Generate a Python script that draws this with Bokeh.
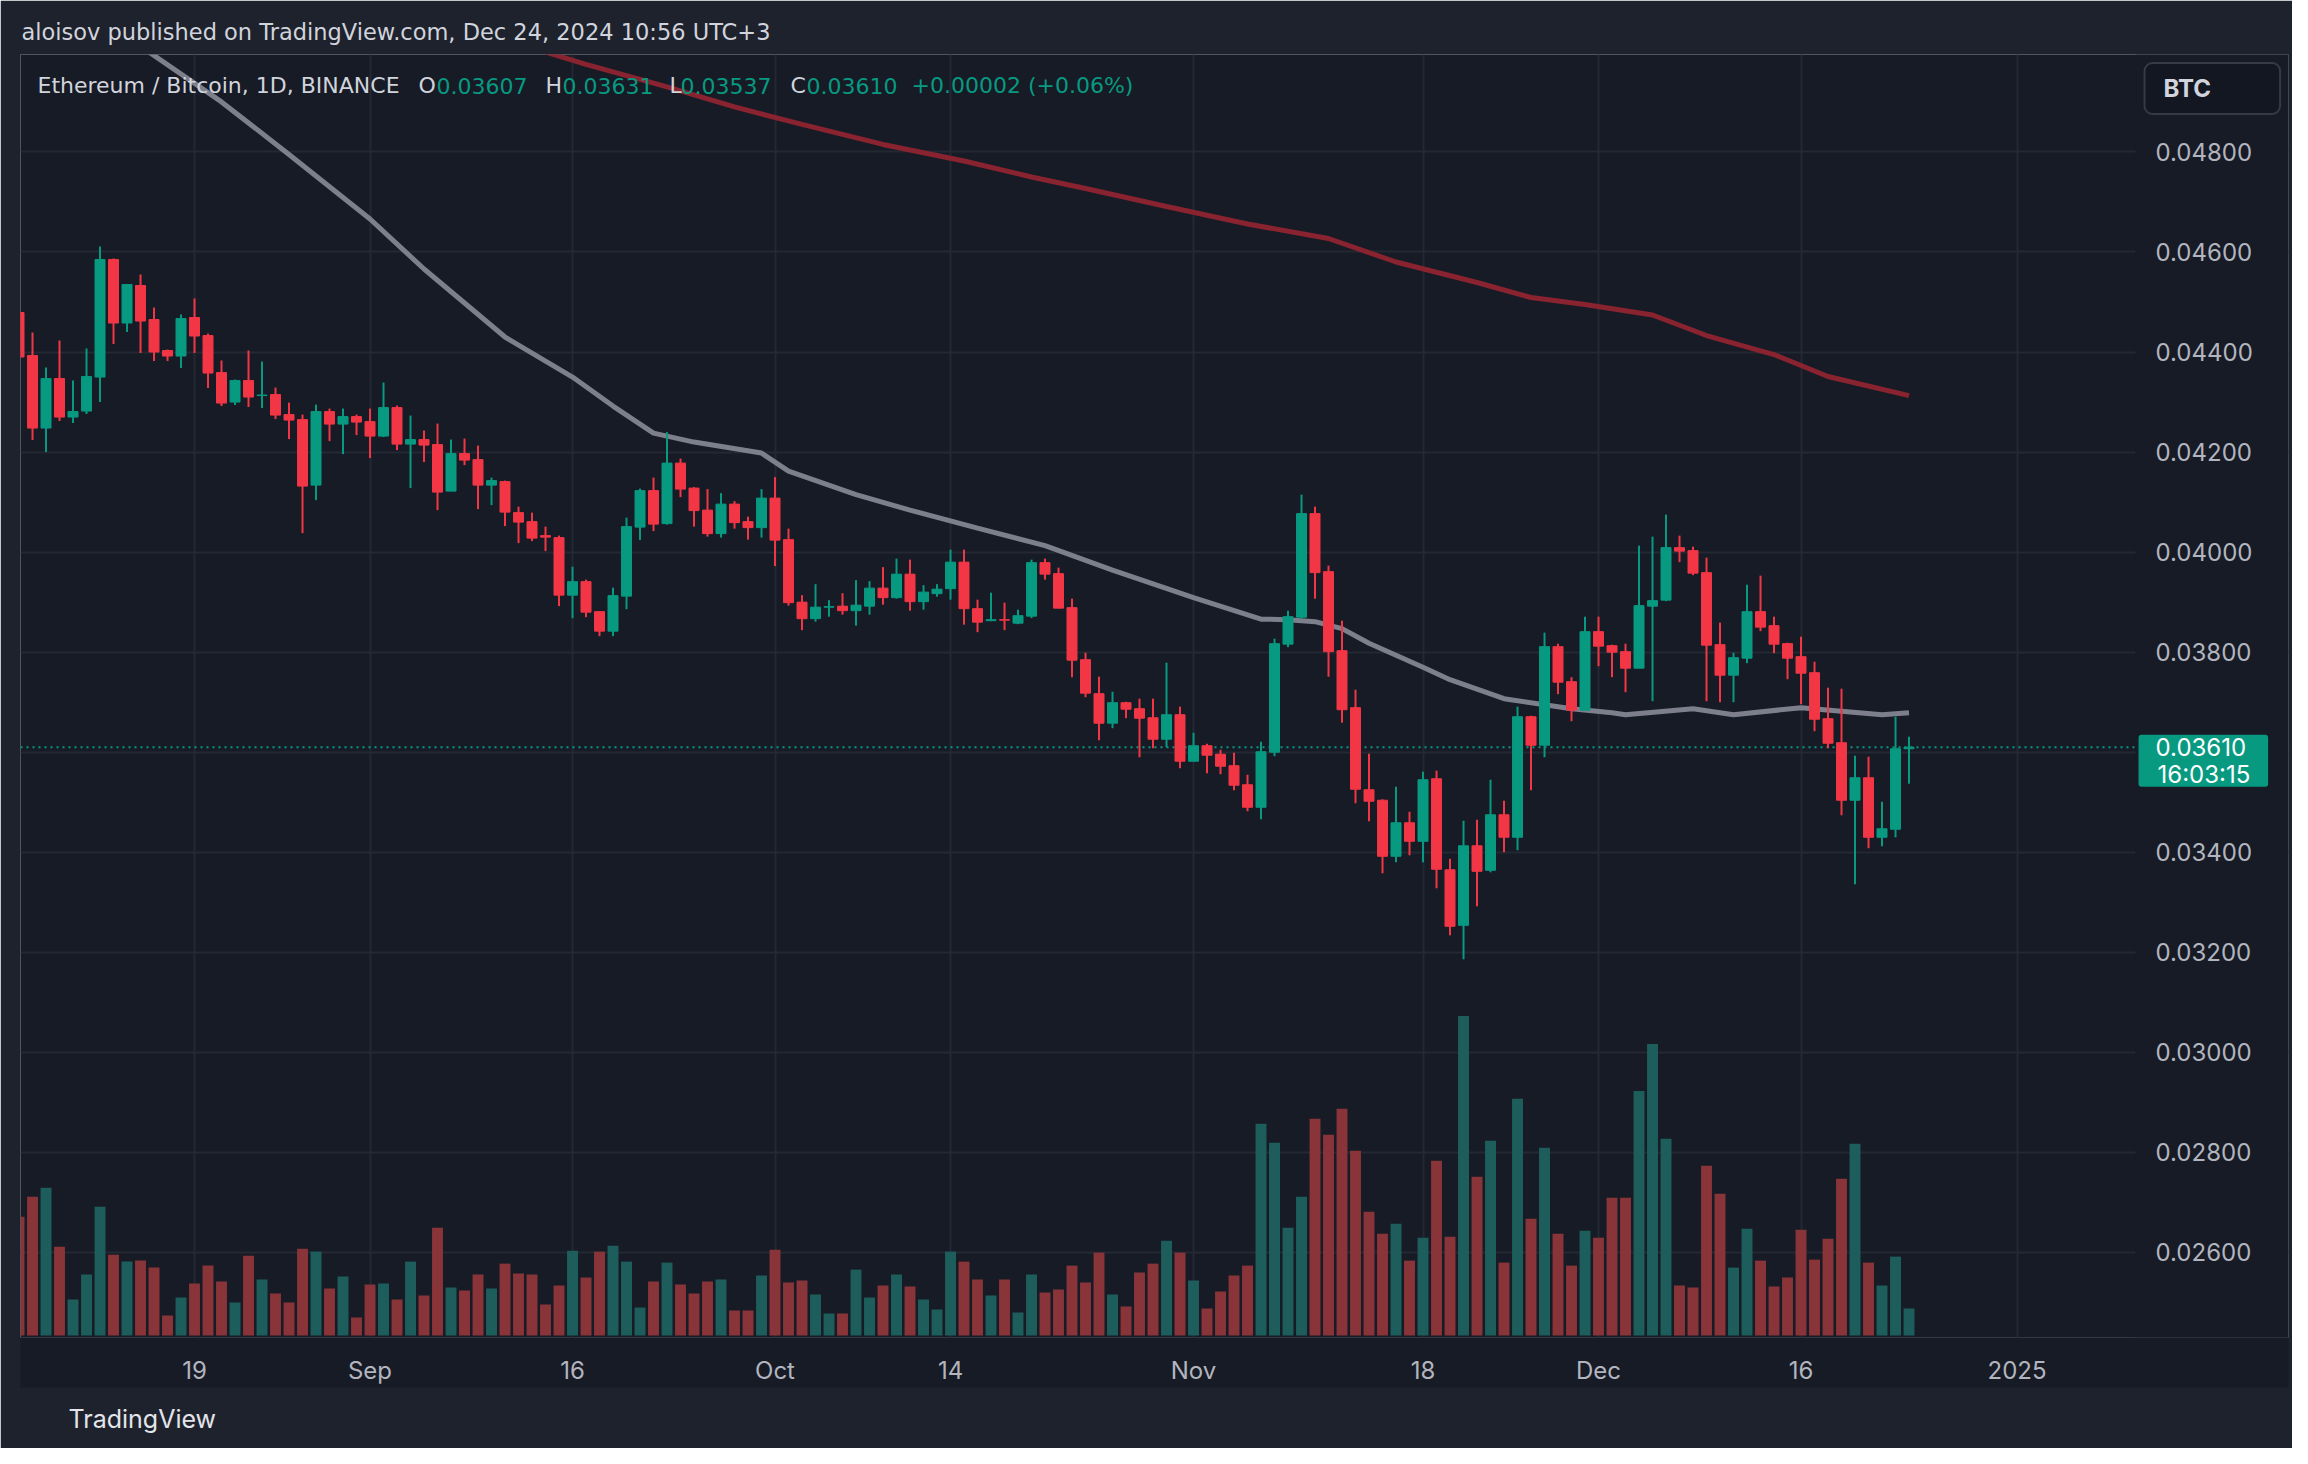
import pandas as pd
from bokeh.plotting import figure
from bokeh.models import (ColumnDataSource, Range1d, FixedTicker, PrintfTickFormatter,
                          CustomJSTickFormatter, Span, Label, Title, BoxAnnotation)
from bokeh.embed import file_html
from bokeh.resources import INLINE

# ---------------- data (ETH/BTC daily, Binance) ----------------
first_day = "2024-08-06"

opens = [0.04479, 0.04393, 0.04248, 0.04347, 0.04270, 0.04282, 0.04350, 0.04585, 0.04458, 0.04533,
         0.04465, 0.04403, 0.04392, 0.04469, 0.04433, 0.04359, 0.04300, 0.04343, 0.04313, 0.04315,
         0.04275, 0.04265, 0.04134, 0.04281, 0.04256, 0.04271, 0.04261, 0.04232, 0.04289, 0.04216,
         0.04225, 0.04215, 0.04122, 0.04197, 0.04185, 0.04134, 0.04141, 0.04079, 0.04061, 0.04033,
         0.04029, 0.03914, 0.03941, 0.03881, 0.03842, 0.03912, 0.04050, 0.04123, 0.04057, 0.04178,
         0.04128, 0.04084, 0.04037, 0.04096, 0.04061, 0.04049, 0.04108, 0.04025, 0.03900, 0.03867,
         0.03890, 0.03892, 0.03883, 0.03892, 0.03928, 0.03909, 0.03956, 0.03901, 0.03917, 0.03927,
         0.03980, 0.03887, 0.03863, 0.03865, 0.03858, 0.03872, 0.03979, 0.03957, 0.03889, 0.03785,
         0.03717, 0.03658, 0.03699, 0.03687, 0.03669, 0.03626, 0.03675, 0.03582, 0.03613, 0.03596,
         0.03573, 0.03535, 0.03490, 0.03600, 0.03816, 0.03870, 0.04077, 0.03961, 0.03803, 0.03689,
         0.03525, 0.03504, 0.03392, 0.03459, 0.03422, 0.03547, 0.03365, 0.03254, 0.03413, 0.03364,
         0.03475, 0.03430, 0.03671, 0.03614, 0.03811, 0.03741, 0.03684, 0.03841, 0.03813, 0.03801,
         0.03768, 0.03892, 0.03904, 0.04009, 0.04003, 0.03959, 0.03815, 0.03754, 0.03788, 0.03881,
         0.03853, 0.03817, 0.03791, 0.03759, 0.03667, 0.03619, 0.03504, 0.03549, 0.03430, 0.03446,
         0.03607]
highs = [0.04490, 0.04439, 0.04369, 0.04423, 0.04343, 0.04407, 0.04611, 0.04587, 0.04535, 0.04555,
         0.04489, 0.04405, 0.04475, 0.04507, 0.04437, 0.04383, 0.04345, 0.04403, 0.04381, 0.04329,
         0.04299, 0.04275, 0.04295, 0.04287, 0.04287, 0.04275, 0.04287, 0.04339, 0.04293, 0.04273,
         0.04243, 0.04257, 0.04225, 0.04227, 0.04213, 0.04149, 0.04143, 0.04091, 0.04079, 0.04051,
         0.04033, 0.03971, 0.03945, 0.03881, 0.03929, 0.04069, 0.04127, 0.04149, 0.04240, 0.04187,
         0.04130, 0.04126, 0.04118, 0.04102, 0.04071, 0.04126, 0.04150, 0.04047, 0.03914, 0.03936,
         0.03904, 0.03918, 0.03944, 0.03942, 0.03970, 0.03987, 0.03985, 0.03934, 0.03936, 0.04005,
         0.04005, 0.03905, 0.03919, 0.03899, 0.03885, 0.03985, 0.03987, 0.03969, 0.03907, 0.03799,
         0.03751, 0.03721, 0.03701, 0.03707, 0.03707, 0.03779, 0.03691, 0.03639, 0.03617, 0.03605,
         0.03599, 0.03555, 0.03621, 0.03827, 0.03883, 0.04115, 0.04091, 0.03973, 0.03863, 0.03725,
         0.03597, 0.03506, 0.03531, 0.03481, 0.03561, 0.03563, 0.03387, 0.03463, 0.03465, 0.03545,
         0.03503, 0.03691, 0.03673, 0.03839, 0.03817, 0.03750, 0.03871, 0.03871, 0.03815, 0.03817,
         0.04013, 0.04031, 0.04075, 0.04033, 0.04011, 0.03989, 0.03859, 0.03799, 0.03935, 0.03953,
         0.03871, 0.03819, 0.03831, 0.03781, 0.03729, 0.03727, 0.03593, 0.03591, 0.03501, 0.03671,
         0.03631]
lows = [0.04375, 0.04224, 0.04200, 0.04262, 0.04258, 0.04276, 0.04300, 0.04416, 0.04440, 0.04398,
        0.04382, 0.04382, 0.04368, 0.04398, 0.04328, 0.04292, 0.04294, 0.04290, 0.04288, 0.04266,
        0.04226, 0.04038, 0.04104, 0.04222, 0.04196, 0.04234, 0.04188, 0.04230, 0.04204, 0.04128,
        0.04180, 0.04084, 0.04122, 0.04174, 0.04086, 0.04094, 0.04052, 0.04018, 0.04022, 0.04002,
        0.03892, 0.03868, 0.03870, 0.03832, 0.03832, 0.03886, 0.04024, 0.04042, 0.04055, 0.04110,
        0.04051, 0.04031, 0.04029, 0.04047, 0.04025, 0.04029, 0.03972, 0.03893, 0.03844, 0.03861,
        0.03871, 0.03875, 0.03853, 0.03875, 0.03895, 0.03907, 0.03883, 0.03885, 0.03911, 0.03905,
        0.03855, 0.03840, 0.03862, 0.03844, 0.03856, 0.03868, 0.03945, 0.03888, 0.03750, 0.03710,
        0.03624, 0.03648, 0.03668, 0.03590, 0.03608, 0.03610, 0.03568, 0.03582, 0.03558, 0.03556,
        0.03524, 0.03482, 0.03466, 0.03592, 0.03810, 0.03866, 0.03907, 0.03751, 0.03659, 0.03498,
        0.03462, 0.03358, 0.03380, 0.03394, 0.03380, 0.03328, 0.03234, 0.03186, 0.03292, 0.03360,
        0.03400, 0.03404, 0.03524, 0.03590, 0.03716, 0.03662, 0.03684, 0.03772, 0.03750, 0.03720,
        0.03768, 0.03702, 0.03902, 0.03980, 0.03954, 0.03702, 0.03700, 0.03700, 0.03778, 0.03842,
        0.03798, 0.03746, 0.03696, 0.03642, 0.03608, 0.03474, 0.03336, 0.03408, 0.03412, 0.03430,
        0.03537]
closes = [0.04390, 0.04248, 0.04347, 0.04270, 0.04281, 0.04351, 0.04585, 0.04458, 0.04535, 0.04462,
          0.04400, 0.04392, 0.04467, 0.04432, 0.04358, 0.04298, 0.04343, 0.04310, 0.04314, 0.04274,
          0.04264, 0.04132, 0.04281, 0.04256, 0.04271, 0.04260, 0.04232, 0.04289, 0.04216, 0.04225,
          0.04214, 0.04120, 0.04197, 0.04184, 0.04134, 0.04143, 0.04080, 0.04060, 0.04028, 0.04030,
          0.03914, 0.03941, 0.03880, 0.03842, 0.03913, 0.04051, 0.04123, 0.04056, 0.04178, 0.04126,
          0.04083, 0.04037, 0.04096, 0.04059, 0.04049, 0.04108, 0.04024, 0.03899, 0.03867, 0.03890,
          0.03891, 0.03883, 0.03894, 0.03928, 0.03909, 0.03956, 0.03901, 0.03920, 0.03926, 0.03980,
          0.03887, 0.03860, 0.03865, 0.03864, 0.03873, 0.03979, 0.03956, 0.03888, 0.03784, 0.03718,
          0.03658, 0.03699, 0.03686, 0.03668, 0.03626, 0.03675, 0.03582, 0.03613, 0.03594, 0.03572,
          0.03534, 0.03490, 0.03601, 0.03817, 0.03871, 0.04077, 0.03959, 0.03801, 0.03685, 0.03526,
          0.03502, 0.03392, 0.03459, 0.03422, 0.03545, 0.03366, 0.03252, 0.03413, 0.03362, 0.03475,
          0.03430, 0.03671, 0.03614, 0.03811, 0.03740, 0.03684, 0.03841, 0.03812, 0.03800, 0.03768,
          0.03893, 0.03903, 0.04009, 0.04002, 0.03958, 0.03814, 0.03754, 0.03789, 0.03881, 0.03850,
          0.03816, 0.03788, 0.03758, 0.03666, 0.03618, 0.03504, 0.03549, 0.03430, 0.03447, 0.03607,
          0.03610]
volumes = [119, 139, 148, 89, 36, 61, 129, 81, 74, 75,
           68, 20, 38, 52, 70, 54, 33, 80, 56, 42,
           33, 87, 84, 47, 59, 18, 51, 52, 36, 74,
           40, 108, 48, 45, 61, 47, 72, 62, 61, 31,
           50, 85, 58, 84, 90, 74, 28, 54, 73, 51,
           42, 54, 56, 25, 25, 60, 86, 53, 55, 41,
           22, 22, 66, 38, 50, 61, 49, 36, 26, 84,
           74, 56, 40, 56, 23, 61, 43, 46, 70, 53,
           83, 41, 29, 63, 72, 95, 83, 55, 27, 44,
           60, 70, 212, 193, 108, 139, 217, 201, 227, 185,
           124, 102, 112, 75, 98, 175, 99, 320, 159, 195,
           73, 237, 117, 188, 102, 70, 105, 98, 138, 138,
           245, 292, 197, 50, 48, 170, 142, 68, 107, 75,
           49, 58, 106, 76, 97, 157, 192, 73, 50, 79,
           27]

# moving averages
ma_gray_dates = ["2024-08-14", "2024-08-21", "2024-08-26", "2024-09-01", "2024-09-05", "2024-09-11",
                 "2024-09-16", "2024-09-19", "2024-09-22", "2024-09-25", "2024-09-30", "2024-10-02",
                 "2024-10-07", "2024-10-11", "2024-10-16", "2024-10-21", "2024-10-26", "2024-11-01",
                 "2024-11-06", "2024-11-08", "2024-11-10", "2024-11-12", "2024-11-14", "2024-11-18",
                 "2024-11-20", "2024-11-24", "2024-11-27", "2024-11-29", "2024-12-02", "2024-12-03",
                 "2024-12-08", "2024-12-11", "2024-12-16", "2024-12-22", "2024-12-24"]
ma_gray_values = [0.05030, 0.04900, 0.04795, 0.04666, 0.04566, 0.04430,
                  0.04350, 0.04292, 0.04238, 0.04220, 0.04198, 0.04162,
                  0.04115, 0.04084, 0.04048, 0.04013, 0.03964, 0.03909,
                  0.03866, 0.03865, 0.03861, 0.03847, 0.03818, 0.03770,
                  0.03745, 0.03707, 0.03695, 0.03687, 0.03679, 0.03675,
                  0.03687, 0.03675, 0.03689, 0.03675, 0.03679]
ma_red_dates = ["2024-09-13", "2024-09-17", "2024-09-23", "2024-09-28", "2024-10-03", "2024-10-09",
                "2024-10-15", "2024-10-20", "2024-10-24", "2024-10-30", "2024-11-05", "2024-11-11",
                "2024-11-16", "2024-11-22", "2024-11-26", "2024-11-30", "2024-12-05", "2024-12-09",
                "2024-12-14", "2024-12-18", "2024-12-24"]
ma_red_values = [0.05008, 0.04975, 0.04930, 0.04890, 0.04855, 0.04815,
                 0.04782, 0.04750, 0.04727, 0.04691, 0.04656, 0.04627,
                 0.04580, 0.04539, 0.04509, 0.04495, 0.04474, 0.04433,
                 0.04395, 0.04351, 0.04313]

price_ticks = [0.026, 0.028, 0.030, 0.032, 0.034, 0.036, 0.038, 0.040, 0.042, 0.044, 0.046, 0.048]
date_tick_days = ["2024-08-19", "2024-09-01", "2024-09-16", "2024-10-01", "2024-10-14",
                  "2024-11-01", "2024-11-18", "2024-12-01", "2024-12-16", "2025-01-01"]
date_tick_labels = ["19", "Sep", "16", "Oct", "14", "Nov", "18", "Dec", "16", "2025"]

# ---------------- styling ----------------
UP, DOWN = "#089981", "#f23645"
VOL_UP, VOL_DOWN = "#1d5e5c", "#883439"
BG_FRAME, BG_OUTER = "#171b26", "#1e222d"
GRID = "#242833"
TXT, AXT = "#d1d4dc", "#b2b5be"
FONT = "Inter"
LFONT = "DejaVu Sans"
DAY = 86400000

dates = pd.date_range(first_day, periods=len(closes), freq="D")
up = [c >= o for o, c in zip(opens, closes)]
src = ColumnDataSource(dict(
    date=dates, open=opens, high=highs, low=lows, close=closes, volume=volumes,
    top=[max(o, c) for o, c in zip(opens, closes)],
    bottom=[min(o, c) for o, c in zip(opens, closes)],
    color=[UP if u else DOWN for u in up],
    vcolor=[VOL_UP if u else VOL_DOWN for u in up],
))

def ms(d):
    return pd.Timestamp(d).value / 1e6

x0 = ms(dates[0])
x_start, x_end = x0 + 0.11 * DAY, x0 + 168.11 * DAY     # frame incl. price-scale column
x_scale = x0 + 156.78 * DAY                              # where the price scale column begins
y_start, y_end = 0.02430, 0.049948

p = figure(width=2292, height=1448, output_backend="svg", toolbar_location=None,
           x_axis_type="datetime", y_axis_location="right",
           x_range=Range1d(x_start, x_end), y_range=Range1d(y_start, y_end),
           min_border_left=20, min_border_right=4, min_border_top=54, min_border_bottom=109)
p.extra_y_ranges = {"vol": Range1d(-2, 1283)}
p.background_fill_color = BG_FRAME
p.border_fill_color = BG_OUTER
p.outline_line_color = None

# title
p.title.text = "aloisov published on TradingView.com, Dec 24, 2024 10:56 UTC+3"
p.title.align = "left"
p.title.offset = 1
p.title.standoff = 19
p.title.text_font = LFONT
p.title.text_font_size = "22.5px"
p.title.text_font_style = "normal"
p.title.text_color = TXT

# axes
p.xaxis.ticker = FixedTicker(ticks=[ms(d) for d in date_tick_days])
p.xaxis.formatter = CustomJSTickFormatter(
    args=dict(vals=[ms(d) for d in date_tick_days], labs=date_tick_labels),
    code="const i = vals.indexOf(tick); return i >= 0 ? labs[i] : '';")
p.yaxis.ticker = FixedTicker(ticks=price_ticks)
p.yaxis.formatter = PrintfTickFormatter(format="%.5f")
p.yaxis[0].fixed_location = x_scale
for ax in (p.xaxis[0], p.yaxis[0]):
    ax.axis_line_color = None
    ax.major_tick_line_color = None
    ax.minor_tick_line_color = None
    ax.major_label_text_font = FONT
    ax.major_label_text_font_size = "24px"
    ax.major_label_text_color = AXT
try:
    p.xaxis[0].background_fill_color = BG_FRAME
except Exception:
    pass
p.xaxis.major_label_standoff = 12
p.yaxis.major_label_standoff = 14
p.xgrid.ticker = p.xaxis[0].ticker
p.ygrid.ticker = p.yaxis[0].ticker
p.grid.grid_line_color = GRID
p.grid.grid_line_width = 2

# last price line, then the price-scale column hides grid + line
last = closes[-1]
p.add_layout(Span(location=last, dimension="width", line_color=UP, line_width=2,
                  line_dash="2 4", level="underlay"))
p.add_layout(BoxAnnotation(left=x_scale, fill_color=BG_FRAME, fill_alpha=1.0,
                           line_color=None, level="underlay"))

# volume
p.vbar(x="date", width=0.81 * DAY, top="volume", bottom=0, y_range_name="vol",
       fill_color="vcolor", line_color=None, source=src)

# moving averages
p.line(pd.to_datetime(ma_gray_dates), ma_gray_values, line_color="#7d808c", line_width=5)
p.line(pd.to_datetime(ma_red_dates), ma_red_values, line_color="#8a2330", line_width=5)

# candles
p.segment(x0="date", y0="low", x1="date", y1="high", line_color="color", line_width=2, source=src)
p.vbar(x="date", width=0.74 * DAY, top="top", bottom="bottom", fill_color="color",
       line_color="color", line_width=1, source=src)

# legend line
legend_parts = [
    ("Ethereum / Bitcoin, 1D, BINANCE", 17, TXT),
    ("O", 398, TXT), ("%.5f" % opens[-1], 416, UP),
    ("H", 525, TXT), ("%.5f" % highs[-1], 542, UP),
    ("L", 649, TXT), ("%.5f" % lows[-1], 660, UP),
    ("C", 770, TXT), ("%.5f" % closes[-1], 786, UP),
    ("+0.00002 (+0.06%)", 891, UP),
]
for txt, off, col in legend_parts:
    p.add_layout(Label(x=x_start, y=y_end, x_offset=off, y_offset=-31, text=txt,
                       text_baseline="alphabetic", text_font=LFONT, text_font_size="22px",
                       text_color=col))

def boxed_label(**kw):
    extra = dict(padding=kw.pop("padding", None), border_radius=kw.pop("border_radius", None))
    lab = Label(**kw)
    for k, v in extra.items():
        if v is not None:
            try:
                setattr(lab, k, v)
            except Exception:
                pass
    return lab

# currency box
p.add_layout(boxed_label(x=x_scale, y=y_end, x_offset=9, y_offset=-34, text="BTC",
                         text_baseline="middle", text_font=FONT, text_font_size="24px",
                         text_font_style="bold", text_color=TXT,
                         background_fill_color="#131722", border_line_color="#363a45",
                         border_line_width=2,
                         padding=dict(left=19, right=69, top=11, bottom=11), border_radius=8))

# last price box
p.add_layout(boxed_label(x=x_scale, y=last, x_offset=3, y_offset=-13.5, text="%.5f" % last,
                         text_baseline="middle", text_font=FONT, text_font_size="24px",
                         text_color="#ffffff", background_fill_color=UP,
                         padding=dict(left=17, right=22, top=3, bottom=31), border_radius=3))
p.add_layout(Label(x=x_scale, y=last, x_offset=22, y_offset=-27, text="16:03:15",
                   text_baseline="middle", text_font=FONT, text_font_size="24px",
                   text_color="#ffffff"))

# footer
p.add_layout(Title(text="TradingView", align="left", offset=48, standoff=29,
                   text_font=FONT, text_font_size="25px", text_font_style="normal",
                   text_color="#e3e5ea"), "below")

open("out.html", "w").write(file_html(p, INLINE))
